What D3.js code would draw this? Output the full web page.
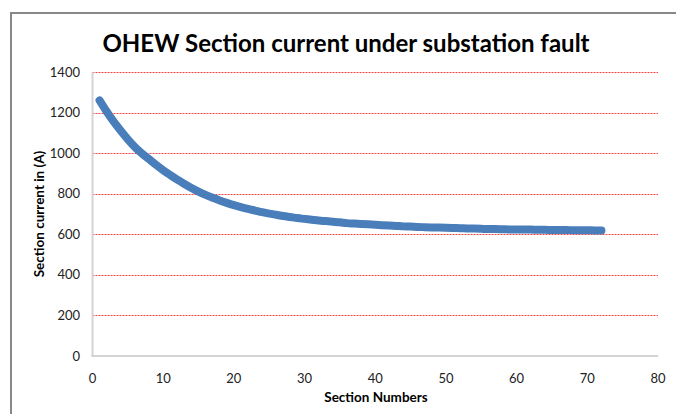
<!DOCTYPE html>
<html><head><meta charset="utf-8">
<script src="https://cdn.jsdelivr.net/npm/d3@7"></script>
<style>
html,body{margin:0;padding:0;background:#fff;}
svg{display:block;}
text{font-family:Lato,"Open Sans",sans-serif;}
</style></head>
<body><svg id="c" width="676" height="414"></svg>
<script>
const sections = d3.range(1, 73);
const currents = [1260,1205,1155,1110,1068,1030,998,970,942,916,
892,869,848,828,810,794,780,767,755,744,
734,725,717,709,702,696,690,685,680,676,
672,668,665,662,659,655,653,651,649,647,
645,643,641,639,638,636,635,634,633,632,
631,630,629,628,627,626,626,625,624,624,
623,623,622,622,621,621,621,620,620,620,
619,619];
const xTicks = [0,10,20,30,40,50,60,70,80];
const yTicks = [0,200,400,600,800,1000,1200,1400];
const titleText = "OHEW Section current under substation fault";
const xTitle = "Section Numbers";
const yTitle = "Section current in (A)";

const svg = d3.select("#c");
svg.append("rect").attr("x",11).attr("y",13).attr("width",700).attr("height",500)
  .attr("fill","#fff").attr("stroke","#888").attr("stroke-width",2);

const L=92.5,R=658,T=72,B=356;
const x = d3.scaleLinear().domain([0,80]).range([L,R]);
const y = d3.scaleLinear().domain([0,1400]).range([B,T]);

svg.append("g").selectAll("line").data(yTicks.filter(d=>d>0)).join("line")
  .attr("x1",L).attr("x2",R).attr("y1",d=>Math.round(y(d))+0.5).attr("y2",d=>Math.round(y(d))+0.5)
  .attr("stroke","#f44").attr("stroke-width",1).attr("stroke-dasharray","2,1");

svg.append("line").attr("x1",L).attr("x2",L).attr("y1",T).attr("y2",B+1)
  .attr("stroke","#d4d4d4").attr("stroke-width",2);
svg.append("line").attr("x1",L-1).attr("x2",R).attr("y1",B).attr("y2",B)
  .attr("stroke","#d4d4d4").attr("stroke-width",2);

svg.append("g").selectAll("text").data(yTicks).join("text")
  .attr("x",80).attr("y",d=>y(d)).attr("dy","0.35em").attr("text-anchor","end")
  .attr("font-size",13).attr("fill","#222").text(d=>d);
svg.append("g").selectAll("text").data(xTicks).join("text")
  .attr("x",d=>x(d)).attr("y",378).attr("dy","0.35em").attr("text-anchor","middle")
  .attr("font-size",13).attr("fill","#222").text(d=>d);

const line = d3.line().x((d,i)=>x(sections[i])).y(d=>y(d)).curve(d3.curveMonotoneX);
svg.append("path").datum(currents).attr("d",line).attr("fill","none")
  .attr("stroke","#4a7ebb").attr("stroke-width",8).attr("stroke-linecap","round").attr("stroke-linejoin","round");

svg.append("text").attr("x",346).attr("y",52).attr("text-anchor","middle")
  .attr("font-size",24).attr("font-weight","bold").attr("fill","#000").text(titleText);
svg.append("text").attr("x",376).attr("y",402).attr("text-anchor","middle")
  .attr("font-size",13.5).attr("font-weight","bold").attr("fill","#000").text(xTitle);
svg.append("text").attr("transform","translate(44,214) rotate(-90)").attr("text-anchor","middle")
  .attr("font-size",13.5).attr("font-weight","bold").attr("fill","#000").text(yTitle);
</script></body></html>
